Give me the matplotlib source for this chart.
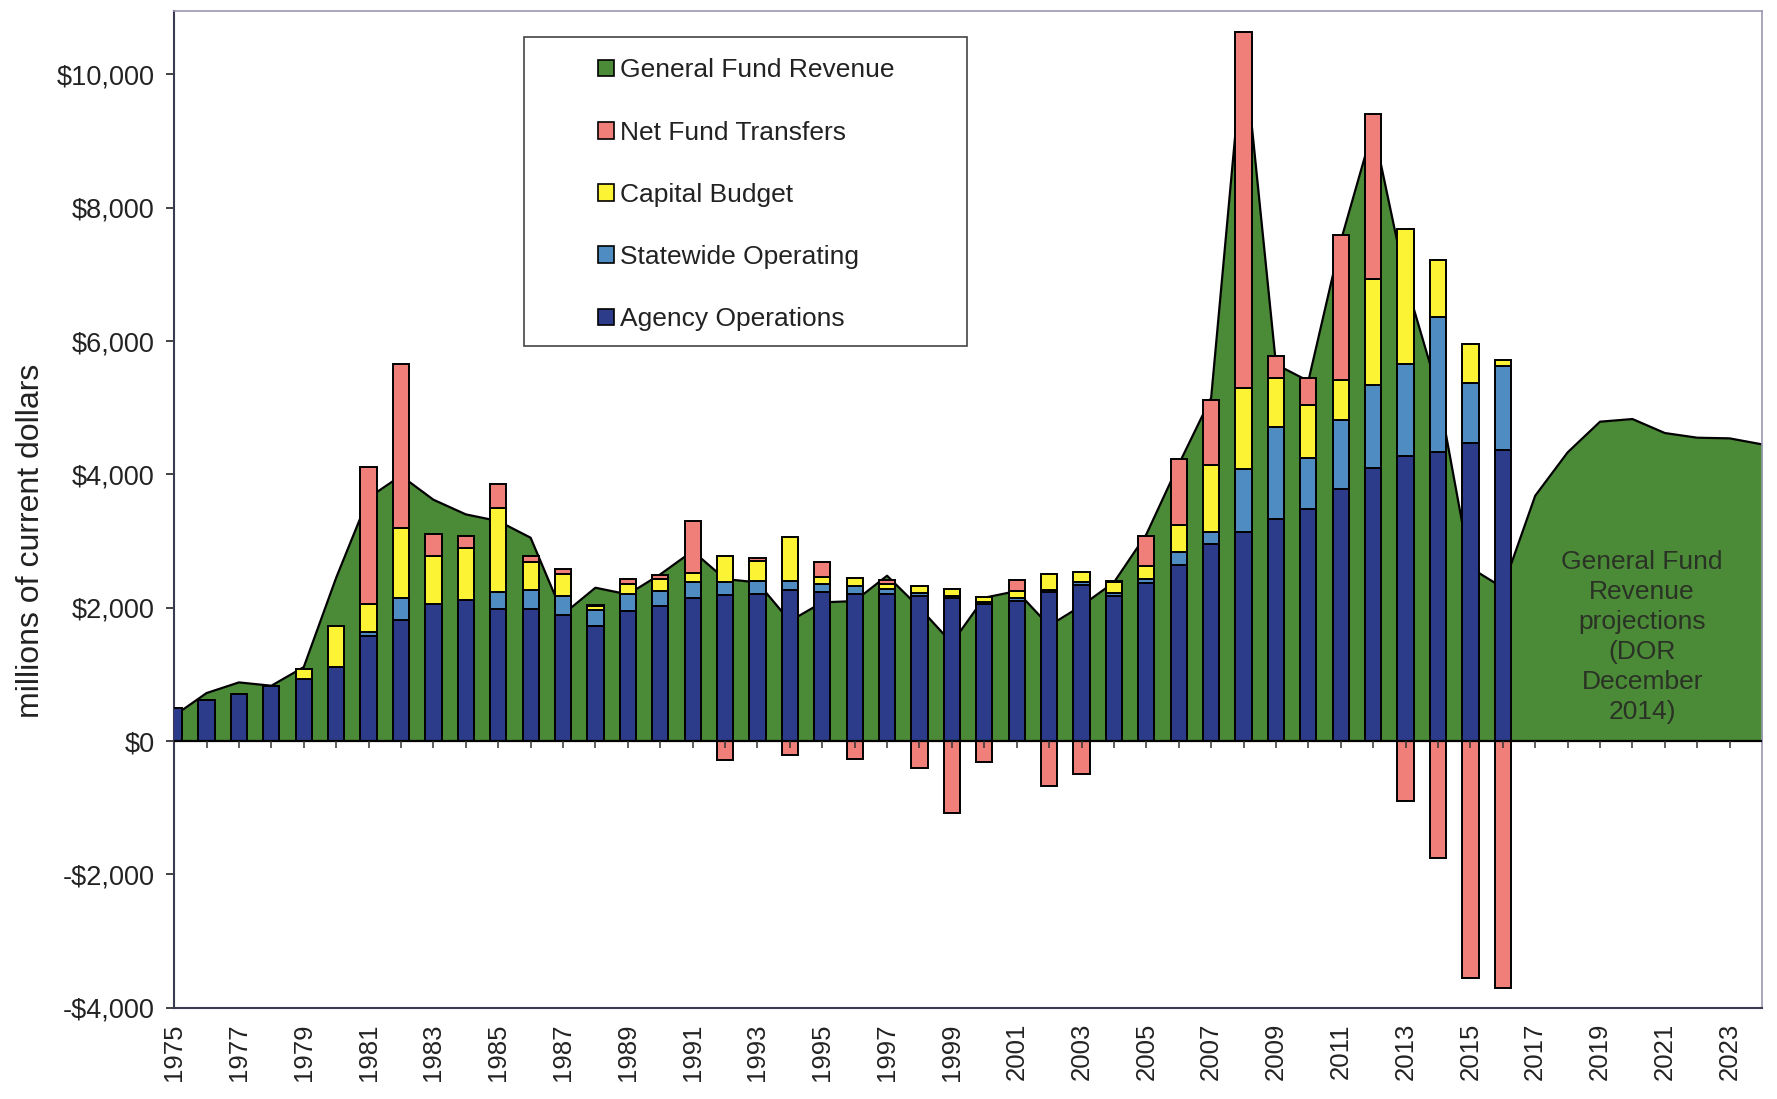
import matplotlib
matplotlib.use("Agg")
import matplotlib.pyplot as plt
from matplotlib.patches import Patch, Rectangle
from matplotlib.ticker import FuncFormatter
import numpy as np

plt.rcParams['font.family'] = ['Liberation Sans', 'DejaVu Sans']

# general fund revenue, actuals and DOR projections (millions)
rev_years = list(range(1975, 2025))
revenue = [380, 720, 880, 830, 1110, 2450, 3650, 3980, 3620, 3400,
           3300, 3050, 1900, 2300, 2200, 2500, 2850, 2430, 2380, 1800,
           2080, 2100, 2480, 2000, 1470, 2150, 2250, 1730, 2030, 2380,
           3100, 4150, 5150, 10450, 5650, 5400, 7500, 9200, 6900, 5250,
           2600, 2300, 3680, 4330, 4790, 4830, 4620, 4550, 4540, 4450]

# spending components by fiscal year
bar_years = list(range(1975, 2017))
agency = [500, 610, 710, 830, 930, 1110, 1580, 1820, 2050, 2110,
          1980, 1980, 1890, 1720, 1950, 2030, 2150, 2190, 2200, 2260,
          2230, 2200, 2205, 2170, 2140, 2060, 2105, 2230, 2340, 2180,
          2370, 2640, 2950, 3130, 3330, 3480, 3780, 4100, 4270, 4340,
          4470, 4370]
statewide = [0, 0, 0, 0, 0, 0, 50, 320, 0, 0,
             260, 280, 290, 240, 250, 220, 230, 200, 205, 145,
             125, 120, 75, 45, 40, 25, 35, 40, 40, 40,
             60, 190, 180, 950, 1380, 760, 1030, 1240, 1380, 2020,
             900, 1250]
capital = [0, 0, 0, 0, 150, 620, 420, 1050, 730, 780,
           1260, 430, 320, 60, 160, 180, 135, 380, 300, 650,
           100, 130, 75, 110, 100, 70, 115, 230, 150, 160,
           190, 410, 1010, 1220, 740, 800, 610, 1590, 2030, 860,
           590, 100]
transfers = [0, 0, 0, 0, 0, 0, 2060, 2460, 320, 180,
             360, 80, 75, 25, 70, 60, 790, -280, 40, -205,
             225, -265, 60, -400, -1080, -310, 165, -680, -490, 25,
             450, 990, 970, 5330, 320, 410, 2170, 2470, -900, -1760,
             -3560, -3700]

labels = ["General Fund Revenue", "Net Fund Transfers", "Capital Budget",
          "Statewide Operating", "Agency Operations"]
colors = ["#4b8a36", "#f07f7a", "#fbf334", "#4f8cc2", "#2d3c8a"]

fig = plt.figure(figsize=(17.77, 10.99), dpi=100)
ax = fig.add_axes([0.098, 0.083, 0.8936, 0.907])

# revenue area
ax.fill_between(rev_years, 0, revenue, color=colors[0], lw=0, zorder=1)
ax.plot(rev_years, revenue, color="black", lw=1.6, zorder=2)

# stacked bars
x = np.array(bar_years)
ag = np.array(agency)
sw = np.array(statewide)
cb = np.array(capital)
tr = np.array(transfers)
w = 0.5
kw = dict(width=w, edgecolor="black", linewidth=1.4, zorder=3)
ax.bar(x, ag, color=colors[4], **kw)
ax.bar(x, sw, bottom=ag, color=colors[3], **kw)
ax.bar(x, cb, bottom=ag + sw, color=colors[2], **kw)
tr_bottom = np.where(tr > 0, ag + sw + cb, 0)
ax.bar(x, tr, bottom=tr_bottom, color=colors[1], **kw)

ax.axhline(0, color="black", lw=1.6, zorder=4)
ticks_minor = np.arange(1976, 2024)
ax.plot(ticks_minor, np.zeros(len(ticks_minor)), ls="none", marker=3,
        ms=5, mew=1.1, color="#333333", zorder=4)

ax.set_xlim(1975, 2024)
ax.set_ylim(-4000, 10950)
ax.set_xticks(np.arange(1975, 2024, 2))
ax.tick_params(axis="x", length=0, pad=11, labelsize=18.5, labelrotation=90,
               colors="#222222")
ax.set_yticks(np.arange(-4000, 10001, 2000))
ax.yaxis.set_major_formatter(FuncFormatter(
    lambda v, p: ("-$" if v < 0 else "$") + f"{abs(int(v)):,}"))
ax.tick_params(axis="y", length=6, width=1.2, pad=8, labelsize=19.5,
               colors="#222222")

for s in ["top", "right"]:
    ax.spines[s].set_color("#9a98b0")
    ax.spines[s].set_linewidth(1.2)
for s in ["left", "bottom"]:
    ax.spines[s].set_color("#3a3a50")
    ax.spines[s].set_linewidth(1.5)

ax.set_ylabel("millions of current dollars", fontsize=23, color="#222222")
ax.yaxis.set_label_coords(-0.081, 0.468)

ax.text(2020.3, 1560, "General Fund\nRevenue\nprojections\n(DOR\nDecember\n2014)",
        ha="center", va="center", fontsize=19, color="#2a3226",
        linespacing=1.32, zorder=5)

# legend with its own frame
frame = Rectangle((0.2947, 0.6854), 0.2494, 0.2805, transform=fig.transFigure,
                  facecolor="white", edgecolor="#444444", lw=1.2, zorder=5)
fig.patches.append(frame)
handles = [Patch(facecolor=c, edgecolor="black", lw=1.2) for c in colors]
leg = fig.legend(handles, labels, loc="upper left",
                 bbox_to_anchor=(0.3365, 0.947), frameon=False,
                 fontsize=19, handlelength=0.6, handleheight=0.6,
                 handletextpad=0.25, labelspacing=1.45, borderpad=0,
                 borderaxespad=0)
for t in leg.get_texts():
    t.set_color("#222222")
leg.set_zorder(6)

fig.savefig("out.png", dpi=100)
